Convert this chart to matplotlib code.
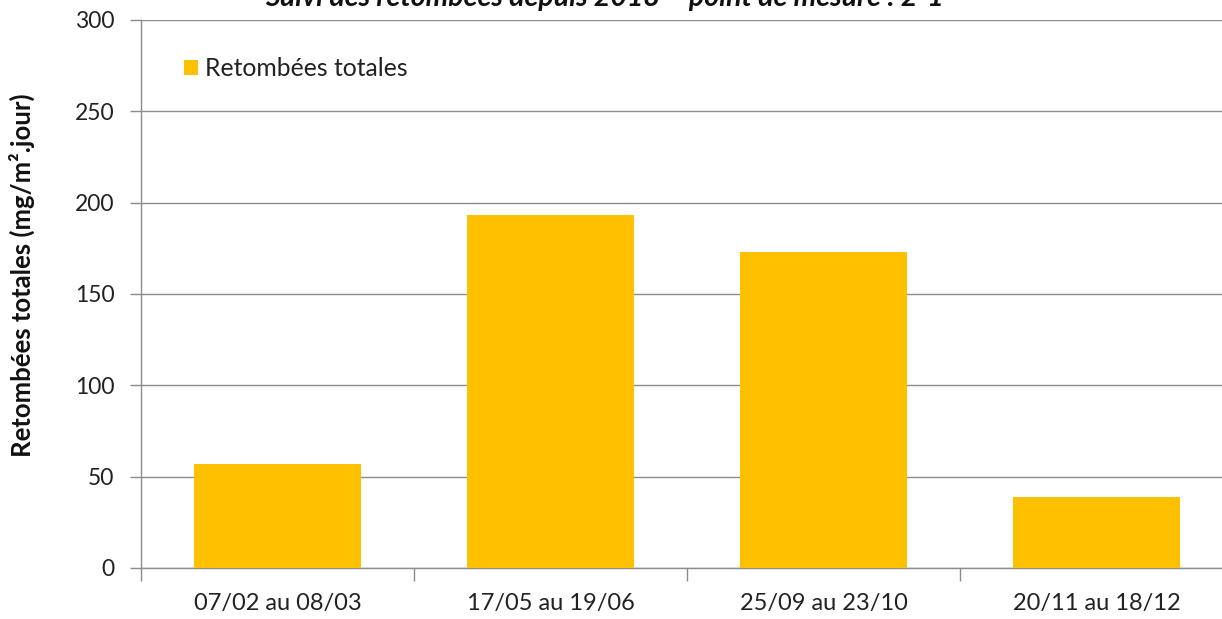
import matplotlib
matplotlib.use("Agg")
import matplotlib.pyplot as plt
import numpy as np

categories = ["07/02 au 08/03", "17/05 au 19/06", "25/09 au 23/10", "20/11 au 18/12"]
retombees = [57, 193, 173, 39]
yticks = [0, 50, 100, 150, 200, 250, 300]

plt.rcParams['font.family'] = ['Lato', 'DejaVu Sans']

fig = plt.figure(figsize=(12.22, 6.19), dpi=100)
ax = fig.add_axes([141/1222, 51/619, 1092/1222, 548/619])

x = np.arange(len(categories))
ax.bar(x, retombees, width=0.61, color="#FFC000", zorder=3, label="Retombées totales")

ax.set_xlim(-0.5, len(categories) - 0.5)
ax.set_ylim(0, 300)
ax.set_yticks(yticks)
ax.set_yticklabels([str(v) for v in yticks], fontsize=16.5, color="#222222")
ax.yaxis.grid(True, color="#8c8c8c", linewidth=1, zorder=0)

ax.set_xticks(x)
ax.set_xticklabels(categories, fontsize=17, color="#222222")
ax.set_xticks(np.arange(len(categories) + 1) - 0.5, minor=True)
ax.tick_params(axis='x', which='major', length=0, pad=18)
ax.tick_params(axis='x', which='minor', length=9, color="#8c8c8c", width=1)
ax.tick_params(axis='y', length=8, color="#8c8c8c", width=1, pad=11)

for side in ["top", "right"]:
    ax.spines[side].set_visible(False)
for side in ["left", "bottom"]:
    ax.spines[side].set_color("#8c8c8c")
    ax.spines[side].set_linewidth(1)

ax.set_ylabel("Retombées totales (mg/m².jour)", fontsize=18.5, fontweight="bold",
              color="#111111")
ax.yaxis.set_label_coords(-0.097, 0.535)

leg = ax.legend(loc="upper left", bbox_to_anchor=(0.03, 0.95), frameon=False,
                fontsize=17.8, handlelength=0.58, handleheight=0.58, handletextpad=0.3,
                borderaxespad=0)
for t in leg.get_texts():
    t.set_color("#222222")

fig.text(0.495, 1 - 11/619, "Suivi des retombées depuis 2018 – point de mesure : 2-1",
         ha="center", va="bottom", fontsize=20.5, fontweight="bold", fontstyle="italic",
         color="#111111")

fig.savefig("out.png", dpi=100)
